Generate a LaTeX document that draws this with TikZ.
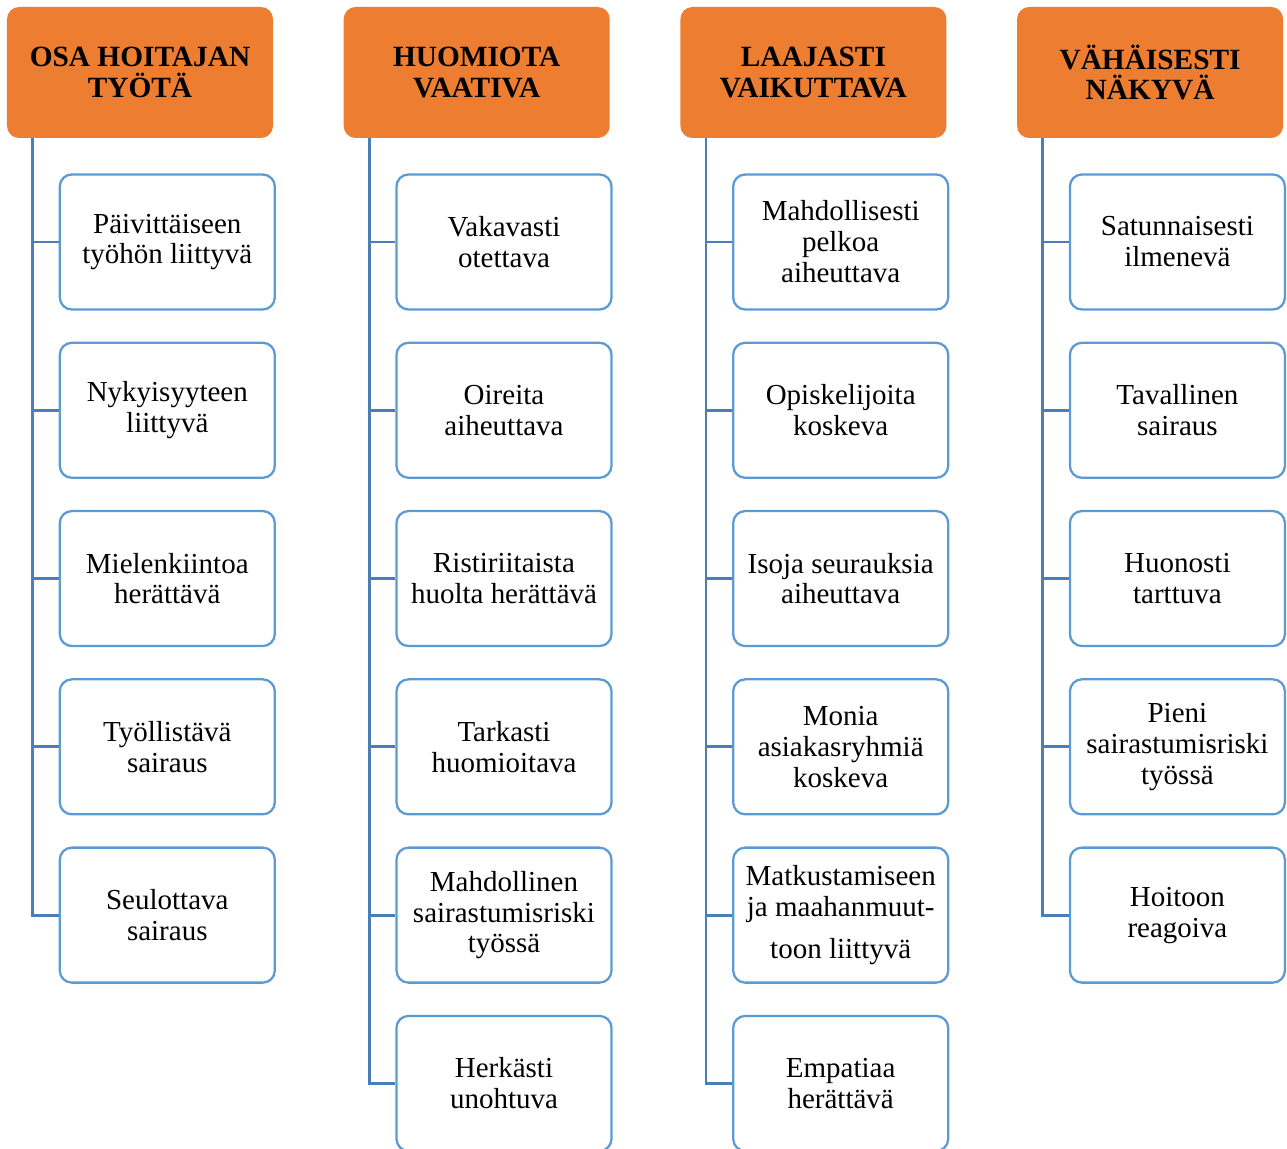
\documentclass[tikz,border=0pt]{standalone}
\usepackage{fontspec}
\setmainfont{Liberation Serif}
\usetikzlibrary{positioning}
\definecolor{headorange}{HTML}{ED7D31}
\definecolor{itemblue}{HTML}{5B9BD5}
\definecolor{linkblue}{HTML}{4A7EBB}

\begin{document}
\begin{tikzpicture}[node distance=0.62cm,
  every node/.style={font=\fontsize{16.5}{17.6}\selectfont},
  head/.style={rectangle, rounded corners=0.24cm, fill=headorange,
    minimum width=5.32cm, minimum height=2.62cm, align=center,
    font=\fontsize{16.7}{17.6}\selectfont\bfseries},
  item/.style={draw=itemblue, line width=1.3pt, rectangle, rounded corners=0.24cm,
    fill=white, minimum width=4.3cm, minimum height=2.7cm, align=center},
  link/.style={draw=linkblue, line width=1.6pt}]
\useasboundingbox (0,0) rectangle (25.74,-22.98);
\clip (0,0) rectangle (25.74,-22.98);

% headers
\node (h1) [head] at (2.8,-1.45) {OSA HOITAJAN\\TYÖTÄ};
\node (h2) [head, right=1.4cm of h1] {HUOMIOTA\\VAATIVA};
\node (h3) [head, right=1.4cm of h2] {LAAJASTI\\VAIKUTTAVA};
\node (h4) [head, right=1.4cm of h3] {VÄHÄISESTI\\NÄKYVÄ};

% column 1
\node (c11) [item, below=0.7cm of h1.south west, anchor=north west, xshift=1.04cm]
{Päivittäiseen\\työhön liittyvä};
\node (c12) [item, below=of c11] {Nykyisyyteen\\liittyvä};
\node (c13) [item, below=of c12] {Mielenkiintoa\\herättävä};
\node (c14) [item, below=of c13] {Työllistävä\\sairaus};
\node (c15) [item, below=of c14] {Seulottava\\sairaus};

% column 2
\node (c21) [item, below=0.7cm of h2.south west, anchor=north west, xshift=1.04cm]
{Vakavasti\\otettava};
\node (c22) [item, below=of c21] {Oireita\\aiheuttava};
\node (c23) [item, below=of c22] {Ristiriitaista\\huolta herättävä};
\node (c24) [item, below=of c23] {Tarkasti\\huomioitava};
\node (c25) [item, below=of c24] {Mahdollinen\\sairastumisriski\\työssä};
\node (c26) [item, below=of c25] {Herkästi\\unohtuva};

% column 3
\node (c31) [item, below=0.7cm of h3.south west, anchor=north west, xshift=1.04cm]
{Mahdollisesti\\pelkoa\\aiheuttava};
\node (c32) [item, below=of c31] {Opiskelijoita\\koskeva};
\node (c33) [item, below=of c32] {Isoja seurauksia\\aiheuttava};
\node (c34) [item, below=of c33] {Monia\\asiakasryhmiä\\koskeva};
\node (c35) [item, below=of c34] {Matkustamiseen\\ja maahanmuut-\\[0.22cm]toon liittyvä};
\node (c36) [item, below=of c35] {Empatiaa\\herättävä};

% column 4
\node (c41) [item, below=0.7cm of h4.south west, anchor=north west, xshift=1.04cm]
{Satunnaisesti\\ilmenevä};
\node (c42) [item, below=of c41] {Tavallinen\\sairaus};
\node (c43) [item, below=of c42] {Huonosti\\tarttuva};
\node (c44) [item, below=of c43] {Pieni\\sairastumisriski\\työssä};
\node (c45) [item, below=of c44] {Hoitoon\\reagoiva};

% connectors
\foreach \i in {1,...,5}
  \draw[link] ([xshift=0.52cm]h1.south west) |- (c1\i.west);
\foreach \i in {1,...,6}
  \draw[link] ([xshift=0.52cm]h2.south west) |- (c2\i.west);
\foreach \i in {1,...,6}
  \draw[link] ([xshift=0.52cm]h3.south west) |- (c3\i.west);
\foreach \i in {1,...,5}
  \draw[link] ([xshift=0.52cm]h4.south west) |- (c4\i.west);
\end{tikzpicture}
\end{document}
